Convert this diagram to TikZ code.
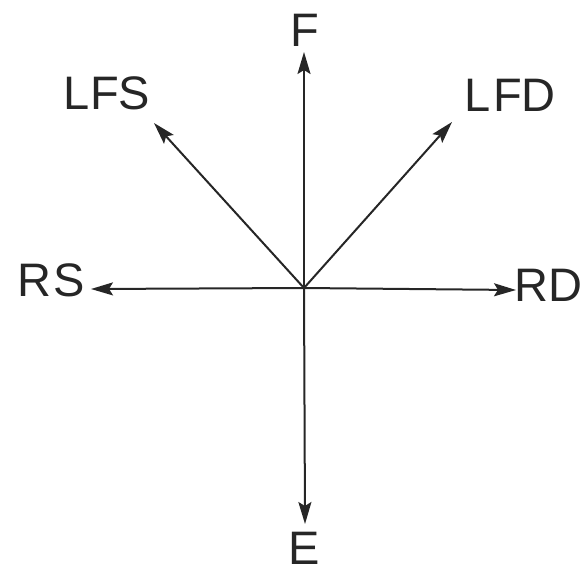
\documentclass[tikz,border=0pt]{standalone}
\usepackage{fontspec}
\setmainfont{Liberation Sans}
\usetikzlibrary{arrows.meta}
\begin{document}
\begin{tikzpicture}[x=1pt,y=-1pt,
  lbl/.style={inner sep=0pt,font=\fontsize{47}{47}\selectfont,text=black!85},
  vec/.style={line width=2pt,draw=black!85,-{Stealth[length=22pt,width=13pt,inset=4pt]}}]
\useasboundingbox (0,0) rectangle (585,573);
\coordinate (O) at (304,288);
\coordinate (tF) at (304,52);
\coordinate (tE) at (305,524);
\coordinate (tRS) at (91,289);
\coordinate (tRD) at (516,290);
\coordinate (tLFS) at (154,123);
\coordinate (tLFD) at (452,122);
\node[lbl] (F) at (305,30) {F};
\node[lbl] (E) at (304,548) {E};
\node[lbl] (RS) at (51,280) {R\kern2pt S};
\node[lbl] (RD) at (548,285) {RD};
\node[lbl] (LFS) at (107,93) {LFS};
\node[lbl] (LFD) at (510,95) {L\kern3pt FD};
\draw[vec] (O) -- (tF);
\draw[vec] (O) -- (tE);
\draw[vec] (O) -- (tRS);
\draw[vec] (O) -- (tRD);
\draw[vec] (O) -- (tLFS);
\draw[vec] (O) -- (tLFD);
\end{tikzpicture}
\end{document}
